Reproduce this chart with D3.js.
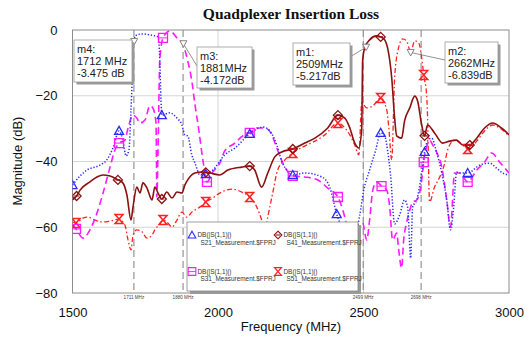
<!DOCTYPE html>
<html><head><meta charset="utf-8">
<script src="https://cdn.jsdelivr.net/npm/d3@7"></script>
<style>body{margin:0;background:#fff}svg{display:block}</style>
</head><body><svg id="c" width="525" height="340"></svg>
<script>
// ---------- data ----------
const xTicks = [1500, 2000, 2500, 3000];
const yTicks = [-80, -60, -40, -20, 0];

const s21 = [[1500,-47.2],[1526,-44.4],[1550,-42.6],[1594,-41.1],[1618,-39.5],[1639,-35.9],[1660,-30.7],[1673,-33.5],[1684,-38.3],[1694,-36.5],[1701,-24.3],[1708,-9.1],[1711,-3.0],[1721,-1.5],[1739,-1.2],[1766,-1.5],[1794,-2.1],[1800,-9.1],[1804,-21.3],[1807,-25.9],[1834,-25.2],[1859,-26.8],[1876,-28.9],[1886,-31.9],[1896,-32.2],[1910,-38.0],[1921,-40.5],[1938,-44.1],[1958,-43.8],[1982,-42.6],[2023,-38.0],[2058,-35.9],[2109,-31.6],[2154,-29.5],[2178,-30.7],[2202,-35.0],[2219,-39.9],[2236,-42.6],[2257,-44.1],[2298,-43.5],[2357,-44.7],[2384,-47.8],[2408,-56.0],[2435,-61.8],[2463,-65.4],[2487,-56.3],[2501,-48.7],[2521,-42.6],[2542,-36.5],[2559,-31.3],[2573,-32.2],[2583,-36.8],[2593,-44.1],[2607,-59.0],[2624,-56.3],[2641,-51.7],[2652,-54.1],[2662,-69.4],[2669,-53.8],[2683,-51.7],[2700,-43.5],[2710,-37.1],[2720,-33.8],[2734,-32.9],[2751,-37.1],[2769,-43.5],[2786,-51.7],[2799,-60.8],[2810,-53.8],[2820,-43.2],[2830,-43.5],[2858,-43.5],[2899,-41.1],[2933,-40.5],[2957,-42.0],[2978,-43.5],[3000,-44.1]];

const s41 = [[1500,-51.7],[1514,-50.5],[1526,-48.7],[1560,-46.2],[1584,-44.7],[1605,-44.1],[1629,-44.4],[1656,-45.6],[1673,-46.5],[1687,-50.2],[1701,-57.8],[1708,-53.8],[1721,-47.8],[1732,-49.6],[1742,-46.5],[1756,-48.1],[1773,-51.7],[1783,-47.8],[1794,-49.6],[1807,-51.4],[1824,-49.3],[1842,-51.1],[1859,-49.3],[1876,-49.6],[1886,-47.2],[1896,-45.6],[1921,-43.5],[1945,-43.2],[1958,-43.3],[1972,-43.5],[2006,-44.1],[2034,-42.6],[2082,-41.7],[2109,-41.4],[2126,-42.6],[2150,-47.8],[2171,-43.5],[2195,-38.6],[2219,-37.1],[2257,-36.2],[2298,-34.4],[2333,-32.9],[2377,-29.8],[2412,-25.9],[2436,-26.8],[2453,-29.8],[2470,-34.4],[2484,-35.9],[2494,-29.8],[2497,-9.4],[2504,-5.5],[2521,-3.0],[2545,-1.8],[2559,-2.1],[2573,-3.0],[2583,-5.5],[2597,-14.6],[2607,-26.8],[2614,-32.2],[2631,-32.9],[2641,-27.7],[2659,-23.7],[2676,-20.1],[2686,-21.6],[2700,-28.9],[2710,-32.2],[2720,-28.9],[2744,-31.3],[2772,-34.4],[2796,-33.8],[2820,-33.5],[2841,-35.0],[2865,-35.0],[2889,-32.9],[2916,-29.8],[2944,-28.3],[2974,-29.8],[3000,-31.9]];

const s31 = [[1500,-59.3],[1512,-60.5],[1536,-63.3],[1560,-60.8],[1584,-55.7],[1605,-49.6],[1629,-41.7],[1646,-36.5],[1660,-34.4],[1680,-33.5],[1691,-29.8],[1708,-25.9],[1721,-26.8],[1732,-28.3],[1749,-27.4],[1766,-23.1],[1776,-23.7],[1787,-28.3],[1790,-50.8],[1794,-36.5],[1800,-9.1],[1811,-2.4],[1835,-0.3],[1859,-2.4],[1879,-4.3],[1896,-9.4],[1910,-15.5],[1921,-22.8],[1934,-30.4],[1948,-39.5],[1962,-46.2],[1982,-43.2],[2006,-40.5],[2023,-36.8],[2058,-34.4],[2085,-32.2],[2109,-31.3],[2133,-29.8],[2161,-29.8],[2185,-31.9],[2202,-35.9],[2223,-40.5],[2257,-44.4],[2298,-44.7],[2343,-45.6],[2377,-48.1],[2412,-50.8],[2429,-54.8],[2446,-59.9],[2477,-62.4],[2497,-58.7],[2511,-63.9],[2521,-57.8],[2532,-48.7],[2545,-46.2],[2562,-47.5],[2580,-48.7],[2590,-53.8],[2600,-63.9],[2614,-61.8],[2621,-66.9],[2631,-72.4],[2638,-63.9],[2648,-58.7],[2659,-54.8],[2669,-52.3],[2683,-51.7],[2693,-49.6],[2703,-43.5],[2707,-40.2],[2717,-35.6],[2727,-33.5],[2738,-35.0],[2751,-37.1],[2769,-41.7],[2786,-51.7],[2799,-59.9],[2813,-43.5],[2830,-43.5],[2858,-46.2],[2889,-42.6],[2916,-40.2],[2940,-37.4],[2968,-40.2],[3000,-43.5]];

const s51 = [[1500,-58.4],[1512,-58.7],[1536,-57.2],[1553,-56.9],[1577,-57.8],[1605,-58.4],[1629,-58.1],[1660,-57.5],[1680,-59.3],[1691,-63.9],[1701,-66.9],[1708,-62.4],[1721,-60.8],[1739,-61.4],[1756,-63.3],[1773,-62.4],[1783,-60.8],[1797,-59.3],[1811,-57.8],[1824,-58.4],[1842,-59.9],[1859,-57.8],[1876,-55.4],[1893,-56.9],[1910,-55.4],[1938,-53.8],[1958,-52.3],[1982,-51.1],[2006,-49.6],[2048,-48.4],[2082,-49.3],[2109,-50.8],[2133,-53.8],[2150,-57.8],[2161,-61.4],[2171,-56.9],[2188,-49.6],[2205,-42.6],[2230,-39.5],[2257,-37.4],[2298,-35.3],[2333,-33.8],[2367,-31.9],[2412,-28.3],[2436,-29.8],[2453,-31.9],[2470,-35.0],[2484,-38.0],[2494,-22.2],[2511,-23.7],[2532,-23.1],[2559,-20.7],[2580,-24.3],[2587,-29.8],[2597,-39.5],[2607,-14.6],[2618,-6.4],[2635,-2.7],[2648,-3.3],[2662,-6.7],[2676,-3.3],[2690,-4.0],[2703,-10.6],[2707,-13.7],[2717,-19.8],[2720,-25.9],[2727,-52.3],[2744,-47.8],[2762,-44.7],[2779,-40.5],[2789,-36.5],[2813,-33.5],[2841,-35.0],[2858,-36.2],[2889,-33.8],[2916,-30.7],[2944,-28.9],[2968,-29.8],[3000,-32.2]];

const s21Marks = [1500,1660,1807,1958,2109,2257,2408,2559,2710,2858];
const s41Marks = [1514,1656,1807,1958,2109,2257,2412,2559,2710,2865];
const s31Marks = [1512,1660,1811,1962,2109,2257,2412,2562,2707,2858];
const s51Marks = [1512,1660,1811,1958,2109,2257,2412,2559,2707,2858];

const legendTitle = "DB(|S(1,1)|)";
const seriesNames = ["S21_Measurement.$FPRJ","S41_Measurement.$FPRJ","S31_Measurement.$FPRJ","S51_Measurement.$FPRJ"];

const markerLines = [1711, 1880, 2499, 2698];
const markerLineLabels = ["1711 MHz","1880 MHz","2499 MHz","2698 MHz"];

const mNames = ["m4","m3","m1","m2"];
const mFreq = [1712, 1881, 2509, 2662];
const mDb = [-3.475, -4.172, -5.217, -6.839];
const mFreqText = ["1712 MHz","1881MHz","2509MHz","2662MHz"];
const mDbText = ["-3.475 dB","-4.172dB","-5.217dB","-6.839dB"];

// ---------- layout ----------
const svg = d3.select("#c");
const L = 72.5, R = 509, T = 30, B = 293;
const x = d3.scaleLinear().domain([1500,3000]).range([L,R]);
const y = d3.scaleLinear().domain([-80,0]).range([B,T]);

svg.append("text").attr("x",291).attr("y",19).attr("text-anchor","middle")
  .attr("font-family","'Liberation Serif','Times New Roman',serif").attr("font-weight","bold")
  .attr("font-size",15.5).attr("fill","#111").text("Quadplexer Insertion Loss");

// grid
const g = svg.append("g");
g.selectAll(".hg").data(yTicks.filter(v=>v>-80&&v<0)).join("line")
  .attr("x1",L).attr("x2",R).attr("y1",d=>y(d)).attr("y2",d=>y(d))
  .attr("stroke","#d4d4d4").attr("stroke-width",1);
g.selectAll(".vg").data(xTicks.filter(v=>v>1500&&v<3000)).join("line")
  .attr("y1",T).attr("y2",B).attr("x1",d=>x(d)).attr("x2",d=>x(d))
  .attr("stroke","#d4d4d4").attr("stroke-width",1);

// marker vertical lines
g.selectAll(".ml").data(markerLines).join("line")
  .attr("x1",d=>x(d)).attr("x2",d=>x(d)).attr("y1",T).attr("y2",B)
  .attr("stroke","#8a8a8a").attr("stroke-width",1.1).attr("stroke-dasharray","7,4");
g.selectAll(".mll").data(markerLines).join("text")
  .attr("x",d=>x(d)).attr("y",298.5).attr("text-anchor","middle")
  .attr("font-family","Arial, 'Liberation Sans', sans-serif").attr("font-size",4.6).attr("fill","#444")
  .text((d,i)=>markerLineLabels[i]);

// frame
svg.append("rect").attr("x",L).attr("y",T).attr("width",R-L).attr("height",B-T)
  .attr("fill","none").attr("stroke","#8c8c8c").attr("stroke-width",1);

// axes
const fnt = "Arial, 'Liberation Sans', sans-serif";
const xa = svg.append("g").attr("transform",`translate(0,${B})`)
  .call(d3.axisBottom(x).tickValues(xTicks).tickSize(0).tickPadding(15).tickFormat(d3.format("d")));
const ya = svg.append("g").attr("transform",`translate(${L},0)`)
  .call(d3.axisLeft(y).tickValues(yTicks).tickSize(0).tickPadding(15).tickFormat(d=>d===0?"0":d3.format("d")(d)));
[xa,ya].forEach(a=>{a.select(".domain").remove();
  a.selectAll("text").attr("font-family",fnt).attr("font-size",13).attr("fill","#111");});
svg.append("text").attr("x",291).attr("y",331).attr("text-anchor","middle")
  .attr("font-family",fnt).attr("font-size",13).attr("fill","#111").text("Frequency (MHz)");
svg.append("text").attr("transform","translate(22,161) rotate(-90)").attr("text-anchor","middle")
  .attr("font-family",fnt).attr("font-size",13).attr("fill","#111").text("Magnitude (dB)");

// clip
svg.append("clipPath").attr("id","pc").append("rect").attr("x",L).attr("y",T-2).attr("width",R-L).attr("height",B-T+2);
const pg = svg.append("g").attr("clip-path","url(#pc)");

const line = d3.line().x(d=>x(d[0])).y(d=>y(d[1])).curve(d3.curveMonotoneX);

const series = [
  {data:s21, marks:s21Marks, color:"#2b2bff", dash:"1.3,1.8", w:1.5, sym:"tri"},
  {data:s41, marks:s41Marks, color:"#8b1010", dash:null, w:1.6, sym:"dia"},
  {data:s31, marks:s31Marks, color:"#ff1aff", dash:"7,4", w:1.6, sym:"sq"},
  {data:s51, marks:s51Marks, color:"#ff2020", dash:"5,2.5,1.5,2.5", w:1.3, sym:"bow"}
];
const drawOrder = [3,2,0,1];
drawOrder.forEach(i=>{
  const s = series[i];
  pg.append("path").datum(s.data).attr("d",line).attr("fill","none")
    .attr("stroke",s.color).attr("stroke-width",s.w).attr("stroke-dasharray",s.dash);
});

function sym(sel, type, color){
  const p = sel.append("path").attr("fill","none").attr("stroke",color).attr("stroke-width",1.3);
  if(type==="tri") p.attr("d","M0,-4.5 L4.5,3.5 L-4.5,3.5 Z");
  if(type==="dia"){ p.attr("d","M0,-4.5 L4.5,0 L0,4.5 L-4.5,0 Z");
    sel.append("path").attr("d","M-2.5,0 H2.5").attr("stroke",color).attr("stroke-width",1.2);}
  if(type==="sq"){ p.attr("d","M-4.5,-4.5 H4.5 V4.5 H-4.5 Z");
    sel.append("path").attr("d","M-4.5,0 H4.5").attr("stroke",color).attr("stroke-width",1);}
  if(type==="bow") p.attr("d","M-4,-4.5 H4 L-4,4.5 H4 Z").attr("stroke-width",1.5);
}
const nearest = (data,f)=>data.reduce((a,b)=>Math.abs(b[0]-f)<Math.abs(a[0]-f)?b:a);
drawOrder.forEach(i=>{
  const s = series[i];
  s.marks.forEach(f=>{
    const p = nearest(s.data,f);
    const gg = pg.append("g").attr("transform",`translate(${x(p[0])},${y(p[1])})`);
    sym(gg, s.sym, s.color);
  });
});

// marker annotations
const boxes = [[74,40,58,42],[197,47,55,41],[293,43,57,42],[445,42,53,41]];
const anchors = [[132,40],[197,66],[350,57],[445,60]];
mNames.forEach((n,i)=>{
  const mx = x(mFreq[i]), my = y(mDb[i]);
  const [bx,by,bw,bh] = boxes[i];
  svg.append("line").attr("x1",mx).attr("y1",my).attr("x2",anchors[i][0]).attr("y2",anchors[i][1])
    .attr("stroke","#777").attr("stroke-width",0.8);
  svg.append("path").attr("transform",`translate(${mx},${my})`).attr("d","M-3.5,-3 L3.5,-3 L0,3.5 Z")
    .attr("fill","#fff").attr("stroke","#777").attr("stroke-width",0.9);
  svg.append("rect").attr("x",bx+2.5).attr("y",by+2.5).attr("width",bw).attr("height",bh).attr("fill","#9a9a9a");
  svg.append("rect").attr("x",bx).attr("y",by).attr("width",bw).attr("height",bh)
    .attr("fill","#fff").attr("stroke","#999").attr("stroke-width",0.8);
  [n+":", mFreqText[i], mDbText[i]].forEach((t,k)=>{
    svg.append("text").attr("x",bx+3).attr("y",by+13+k*12).attr("font-family",fnt)
      .attr("font-size",11).attr("fill","#222").text(t);
  });
});

// legend
const lx=187, ly=222, lw=171, lh=69;
svg.append("rect").attr("x",lx+3).attr("y",ly+3).attr("width",lw).attr("height",lh).attr("fill","#9a9a9a");
svg.append("rect").attr("x",lx).attr("y",ly).attr("width",lw).attr("height",lh)
  .attr("fill","#fff").attr("stroke","#888").attr("stroke-width",0.8);
const legPos = [[192,235],[278,235],[192,271.5],[278,271.5]];
const legIdx = [0,1,2,3];
legIdx.forEach((si,k)=>{
  const s = series[si];
  const [px,py] = legPos[k];
  const gg = svg.append("g").attr("transform",`translate(${px},${py}) scale(0.85)`);
  sym(gg, s.sym, s.color);
  svg.append("text").attr("x",px+5.5).attr("y",py+2.3).attr("font-family",fnt).attr("font-size",6.4)
    .attr("fill","#333").text(legendTitle);
  svg.append("text").attr("x",px+8.5).attr("y",py+9.8).attr("font-family",fnt).attr("font-size",6.4)
    .attr("fill","#333").text(seriesNames[si]);
});
</script></body></html>
